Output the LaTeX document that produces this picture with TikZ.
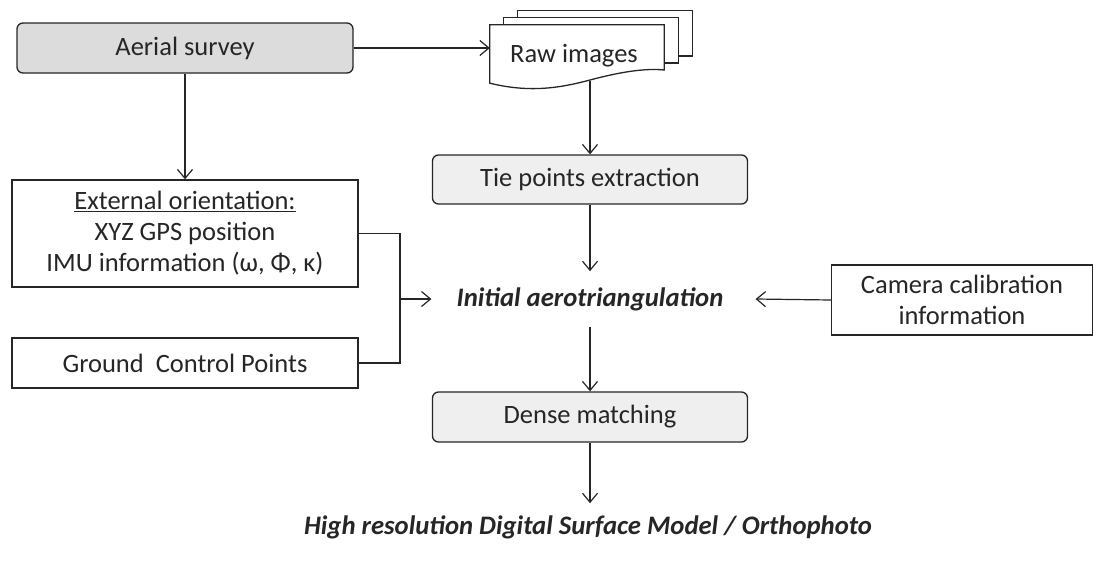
\documentclass[tikz,border=0pt]{standalone}
\usepackage{fontspec}
\setmainfont{Carlito}
\usepackage{tikz}
\usetikzlibrary{arrows.meta,calc}
\definecolor{inkgray}{HTML}{262626}
\definecolor{boxgray}{HTML}{DCDCDC}
\definecolor{boxlight}{HTML}{EFEFEF}

\tikzset{
  flowbox/.style={draw=inkgray,line width=1.3pt,inner sep=0pt,align=center,text=inkgray},
  softbox/.style={flowbox,rounded corners=6pt,fill=boxlight},
  plainbox/.style={flowbox,fill=white},
  flowtxt/.style={inner sep=0pt,text=inkgray,font=\fontsize{26.7}{31}\selectfont\bfseries\itshape},
  link/.style={draw=inkgray,line width=1.2pt,->}
}

\begin{document}
\begin{tikzpicture}[x=1pt,y=-1pt,>={Straight Barb[length=9pt,width=15pt]},
    font=\fontsize{26.5}{31}\selectfont]
        \useasboundingbox (0,0) rectangle (1102,562);
        % boxes of the chain
        \node[softbox,fill=boxgray,minimum width=336,minimum height=50] (aerial) at (185,48) {Aerial survey};
        \node[softbox,minimum width=315,minimum height=49] (tie) at (590,179.5) {Tie points extraction};
        \node[softbox,minimum width=315,minimum height=50] (dense) at (590,417) {Dense matching};
        \node[plainbox,minimum width=346,minimum height=107] (extor) at (185,233.5)
          {\underline{External orientation:}\\XYZ GPS position\\IMU information (ω, Φ, κ)};
        \node[plainbox,minimum width=346,minimum height=50] (gcp) at (185,363) {Ground~ Control Points};
        \node[plainbox,minimum width=261,minimum height=70] (camera) at (962,300)
          {Camera calibration\\information};
        \node[flowtxt] (aero) at (590,299) {Initial aerotriangulation};
        \node[flowtxt] (dsm) at (588,527) {High resolution Digital Surface Model / Orthophoto};
        % stack of raw images
        \node[inner sep=0pt,minimum width=174,minimum height=58] (rawimg) at (577,54) {};
        \foreach \d in {2,1}
          \filldraw[fill=white,draw=inkgray,line width=1.3pt]
            ($(rawimg.north west)+(14*\d,-7*\d)$) rectangle ($(rawimg.east)+(14*\d,16-7*\d)$);
        \filldraw[fill=white,draw=inkgray,line width=1.3pt] (rawimg.north west) -- (rawimg.north east)
          -- ($(rawimg.east)+(0,16)$) .. controls (645,68) and (620,72) .. (590,80)
          .. controls (560,88) and (530,93) .. (rawimg.south west) -- cycle;
        \node[text=inkgray] at ($(rawimg)+(-3,2)$) {Raw images};
        \coordinate (rawfoot) at (590,80.5);
        % connectors
        \draw[link] (aerial.east) -- (aerial.east -| rawimg.west);
        \draw[link] (aerial.south) -- (aerial.south |- extor.north);
        \draw[link] (rawfoot) -- (tie.north);
        \draw[link] (tie.south) -- ($(aero.north)+(0,-16)$);
        \draw[link] ($(aero.south)+(0,16)$) -- (dense.north);
        \draw[link] (dense.south) -- ($(dsm.north)+(2,-12)$);
        \draw[link] (camera.west) -- ($(aero.east)+(32,0)$);
        \coordinate (join) at (400,299);
        \draw[draw=inkgray,line width=1.2pt] (extor.east) -| (join) |- (gcp.east);
        \draw[link] (join) -- ($(aero.west)+(-25,0)$);
\end{tikzpicture}
\end{document}
